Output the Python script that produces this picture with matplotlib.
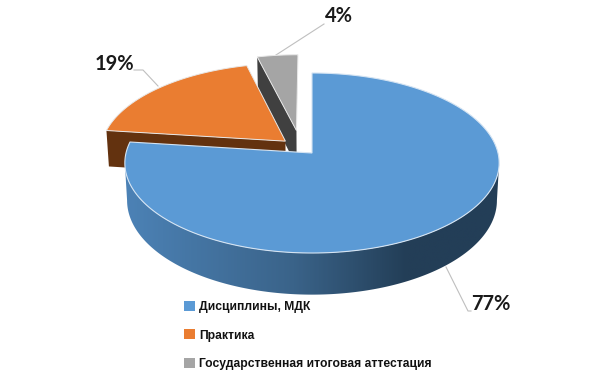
import numpy as np
import matplotlib
matplotlib.use("Agg")
import matplotlib.pyplot as plt
from matplotlib.colors import LinearSegmentedColormap
from matplotlib.patches import Patch, Polygon

# Data
labels = ["Дисциплины, МДК", "Практика", "Государственная итоговая аттестация"]
values = [77, 19, 4]
value_labels = ["77%", "19%", "4%"]

colors = ["#5B9AD5", "#EA7D31", "#A5A5A5"]
side_colors = ["#2F5478", "#63320F", "#404040"]
explode = [(0.0, 0.0), (-0.145, 0.135), (-0.086, 0.26)]

# Pie geometry, in pixels
cx, cy = 312, 153
R, A = 186, 88.9
k = 1 / 9
D = 37


def project(u, v, down=0.0):
    s = 1 + k * v
    x = cx + R * u / s
    y = cy - A * v / s + down * D / s
    x = cx + (x - cx) * (1 - 0.012 * down)
    return x, y


def wedge_points(start, end, offset, down=0.0):
    t = np.radians(np.linspace(start, end, 200))
    us = np.append(np.sin(t) + offset[0], offset[0])
    vs = np.append(np.cos(t) + offset[1], offset[1])
    x, y = project(us, vs, down)
    return np.column_stack([x, y])


def cut_side(angle, offset):
    # Flat face of an exploded slice, along one of its straight edges
    t = np.radians(angle)
    tip = project(np.sin(t) + offset[0], np.cos(t) + offset[1])
    tip_low = project(np.sin(t) + offset[0], np.cos(t) + offset[1], 1)
    mid = project(offset[0], offset[1])
    mid_low = project(offset[0], offset[1], 1)
    return [tip, mid, mid_low, tip_low]


fig = plt.figure(figsize=(6, 3.8), dpi=100)
ax = fig.add_axes([0, 0, 1, 1])
ax.set_xlim(0, 600)
ax.set_ylim(380, 0)
ax.axis("off")

ends = np.cumsum(values) / np.sum(values) * 360
starts = np.append(0, ends[:-1])

# Back slices first, so the big one covers them
for i in [2, 1]:
    ax.add_patch(Polygon(cut_side(starts[i], explode[i]), closed=True,
                         facecolor=side_colors[i], edgecolor="none", zorder=2))
    ax.add_patch(Polygon(wedge_points(starts[i], ends[i], explode[i]), closed=True,
                         facecolor=colors[i], edgecolor="#E8E8E8", linewidth=0.7, zorder=3))

# Rim of the big slice with a left-to-right gradient
t_rim = np.degrees(np.arccos(-k))
t = np.radians(np.linspace(t_rim, 360 - t_rim, 300))
x_top, y_top = project(np.sin(t), np.cos(t))
x_low, y_low = project(np.sin(t), np.cos(t), 1)
rim = np.column_stack([np.r_[x_top, x_low[::-1]], np.r_[y_top, y_low[::-1]]])
rim_cmap = LinearSegmentedColormap.from_list(
    "rim", [(0, "#4C82B6"), (0.45, "#3A6389"), (0.75, "#233E57"), (1, "#233E57")])
grad = ax.imshow(np.linspace(0, 1, 300)[None, :], cmap=rim_cmap, aspect="auto",
                 extent=(124, 502, 310, 150), zorder=4)
grad.set_clip_path(Polygon(rim, closed=True, transform=ax.transData))
ax.set_xlim(0, 600)
ax.set_ylim(380, 0)

ax.add_patch(Polygon(wedge_points(starts[0], ends[0], explode[0]), closed=True,
                     facecolor=colors[0], edgecolor="#D5E4F3", linewidth=0.8, zorder=5))

# Leader lines
ax.plot([446, 468, 471], [267, 311, 311], color="#BFBFBF", lw=0.8, zorder=1)
ax.plot([134, 143, 158], [70, 70, 86], color="#BFBFBF", lw=0.8, zorder=1)
ax.plot([276, 324], [55, 24], color="#BFBFBF", lw=0.8, zorder=1)

# Value labels
label_pos = [(491, 304), (114, 64), (339, 16)]
for (x, y), txt in zip(label_pos, value_labels):
    ax.text(x, y, txt, family="Lato", fontsize=14.5, fontweight="bold",
            color="#1A1A1A", ha="center", va="center", zorder=6)

handles = [Patch(facecolor=c, edgecolor="none") for c in colors]
ax.legend(handles, labels, loc="upper left", bbox_to_anchor=(0.3065, 0.2075),
          frameon=False, handlelength=0.9, handleheight=0.9, handletextpad=0.36,
          labelspacing=1.32, borderpad=0, borderaxespad=0,
          prop={"family": "Liberation Sans", "weight": "bold", "size": 8.72},
          labelcolor="#111111")

plt.savefig("out.png", dpi=100)
